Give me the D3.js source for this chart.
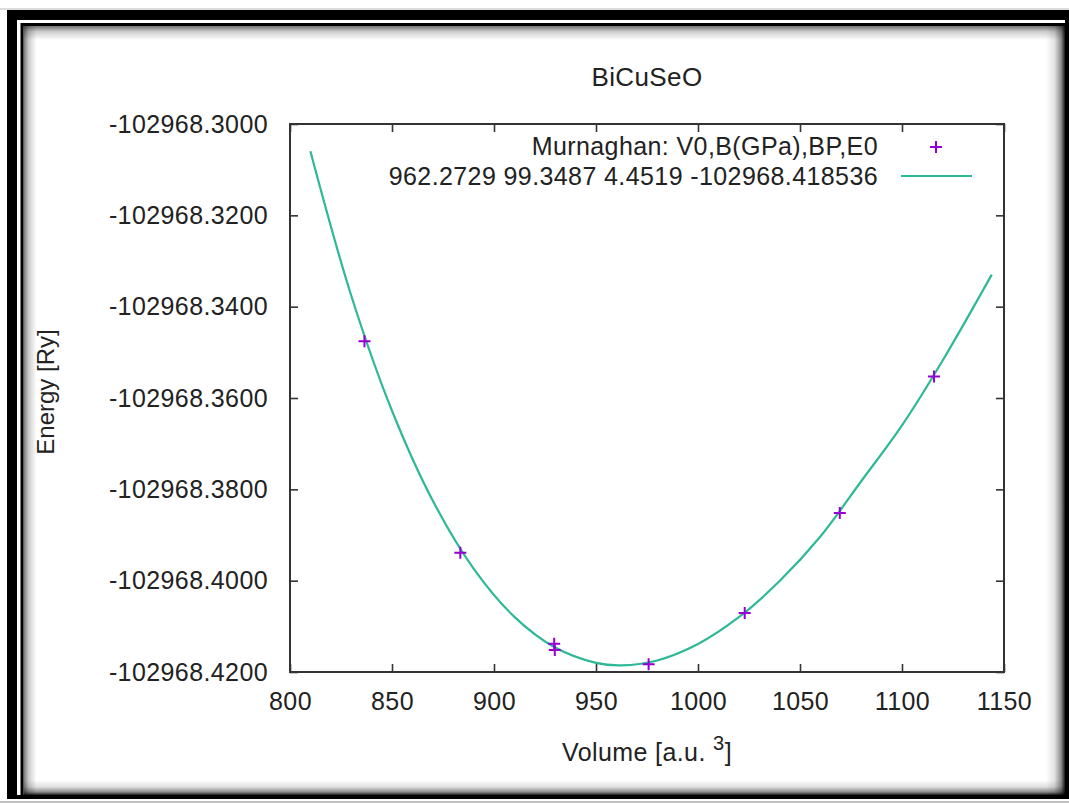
<!DOCTYPE html>
<html>
<head>
<meta charset="utf-8">
<script src="https://cdn.jsdelivr.net/npm/d3@7"></script>
<style>
  html, body { margin: 0; padding: 0; background: #fff; }
  svg { display: block; }
  text { font-family: "Liberation Sans", Arial, sans-serif; fill: #222; letter-spacing: 0.4px; }
</style>
</head>
<body>
<svg id="chart" width="1069" height="803"></svg>
<script>
// E(V) calculations for BiCuSeO: computed energies and the Murnaghan fit
const pointVolume = [836.5, 883.5, 929.5, 929.8, 975.8, 1022.9, 1069.5, 1115.7];
const pointEnergy = [-102968.3476, -102968.3939, -102968.4138, -102968.4152,
                     -102968.4183, -102968.4071, -102968.3852, -102968.3553];

// fitted Murnaghan curve, sampled along volume
const fitVolume = [810, 830, 850, 870, 890, 910, 930, 950, 962.27, 980, 1000,
                   1020, 1040, 1060, 1080, 1100, 1120, 1144];
const fitEnergy = [-102968.30597, -102968.33755, -102968.36279, -102968.38249,
                   -102968.39736, -102968.40792, -102968.41465, -102968.41800,
                   -102968.41854, -102968.41747, -102968.41387, -102968.40801,
                   -102968.40009, -102968.39033, -102968.37823, -102968.36600,
                   -102968.35173, -102968.33299];

const xTicks = [800, 850, 900, 950, 1000, 1050, 1100, 1150];
const yTicks = [-102968.30, -102968.32, -102968.34, -102968.36, -102968.38,
                -102968.40, -102968.42];
const yTickLabels = ["-102968.3000", "-102968.3200", "-102968.3400", "-102968.3600",
                     "-102968.3800", "-102968.4000", "-102968.4200"];

const titleText = "BiCuSeO";
const legendPoints = "Murnaghan: V0,B(GPa),BP,E0";
const legendFit = "962.2729 99.3487 4.4519 -102968.418536";

const svg = d3.select("#chart");
const W = 1069, H = 803;

// ---- picture frame with inset shadow ----
const defs = svg.append("defs");
function grad(id, x1, y1, x2, y2, stops) {
  const g = defs.append("linearGradient").attr("id", id)
    .attr("x1", x1).attr("y1", y1).attr("x2", x2).attr("y2", y2);
  stops.forEach(s => g.append("stop").attr("offset", s[0])
    .attr("stop-color", "#000").attr("stop-opacity", s[1]));
}
grad("shTop", 0, 0, 0, 1, [[0, 0.55], [0.4, 0.2], [1, 0]]);
grad("shLeft", 0, 0, 1, 0, [[0, 0.55], [0.4, 0.2], [1, 0]]);
grad("shRight", 0, 0, 1, 0, [[0, 0], [0.45, 0.12], [0.8, 0.45], [1, 0.9]]);
grad("shBottom", 0, 0, 0, 1, [[0, 0], [0.45, 0.12], [0.8, 0.45], [1, 0.9]]);

svg.append("rect").attr("x", 0).attr("y", 0).attr("width", W).attr("height", H).attr("fill", "#fff");
svg.append("line").attr("x1", 0).attr("x2", W).attr("y1", 9).attr("y2", 9)
  .attr("stroke", "#bbb").attr("stroke-width", 1);
svg.append("line").attr("x1", 0).attr("x2", W).attr("y1", 802).attr("y2", 802)
  .attr("stroke", "#aaa").attr("stroke-width", 1.5);
svg.append("rect").attr("x", 7).attr("y", 10).attr("width", W - 7).attr("height", 789).attr("fill", "#000");
svg.append("rect").attr("x", 17).attr("y", 20).attr("width", 1048).attr("height", 775).attr("fill", "#fff");
svg.append("rect").attr("x", 20.5).attr("y", 23).attr("width", 1044.5).attr("height", 772).attr("fill", "#000");
svg.append("rect").attr("x", 23.5).attr("y", 26).attr("width", 1041.5).attr("height", 769).attr("fill", "#fff");
svg.append("rect").attr("x", 23.5).attr("y", 26).attr("width", 1041.5).attr("height", 14).attr("fill", "url(#shTop)");
svg.append("rect").attr("x", 23.5).attr("y", 26).attr("width", 13).attr("height", 769).attr("fill", "url(#shLeft)");
svg.append("rect").attr("x", 1046).attr("y", 26).attr("width", 19).attr("height", 769).attr("fill", "url(#shRight)");
svg.append("rect").attr("x", 23.5).attr("y", 780).attr("width", 1041.5).attr("height", 15).attr("fill", "url(#shBottom)");

// ---- plot area ----
const plotLeft = 290, plotRight = 1004, plotTop = 124, plotBottom = 672;
const x = d3.scaleLinear().domain([800, 1150]).range([plotLeft, plotRight]);
const y = d3.scaleLinear().domain([-102968.42, -102968.30]).range([plotBottom, plotTop]);

const axisColor = "#333";
const fontSize = 25;

function styleAxis(g) {
  g.select(".domain").remove();
  g.selectAll(".tick line").attr("stroke", axisColor).attr("stroke-width", 1.6);
  g.selectAll(".tick text").style("font-size", fontSize + "px")
    .style("font-family", '"Liberation Sans", Arial, sans-serif').attr("fill", "#222");
}

svg.append("g").attr("transform", `translate(0,${plotBottom})`)
  .call(d3.axisBottom(x).tickValues(xTicks).tickFormat(d3.format("d"))
    .tickSizeInner(-8).tickSizeOuter(0).tickPadding(20))
  .call(styleAxis);
svg.append("g").attr("transform", `translate(0,${plotTop})`)
  .call(d3.axisTop(x).tickValues(xTicks).tickFormat("").tickSizeInner(-8).tickSizeOuter(0))
  .call(styleAxis);
svg.append("g").attr("transform", `translate(${plotLeft},0)`)
  .call(d3.axisLeft(y).tickValues(yTicks).tickFormat((d, i) => yTickLabels[i])
    .tickSizeInner(-8).tickSizeOuter(0).tickPadding(22))
  .call(styleAxis);
svg.append("g").attr("transform", `translate(${plotRight},0)`)
  .call(d3.axisRight(y).tickValues(yTicks).tickFormat("").tickSizeInner(-8).tickSizeOuter(0))
  .call(styleAxis);

svg.append("rect").attr("x", plotLeft).attr("y", plotTop)
  .attr("width", plotRight - plotLeft).attr("height", plotBottom - plotTop)
  .attr("fill", "none").attr("stroke", axisColor).attr("stroke-width", 2);

// ---- fit curve ----
const fitColor = "#2db896";
const fitData = fitVolume.map((v, i) => [v, fitEnergy[i]]);
svg.append("path").datum(fitData)
  .attr("fill", "none").attr("stroke", fitColor).attr("stroke-width", 2.2)
  .attr("d", d3.line().x(d => x(d[0])).y(d => y(d[1])).curve(d3.curveCatmullRom));

// ---- data points ----
const pointColor = "#9400d3";
const cross = "M-6,0H6M0,-6V6";
svg.append("g").selectAll("path").data(pointVolume.map((v, i) => [v, pointEnergy[i]]))
  .join("path")
  .attr("transform", d => `translate(${x(d[0])},${y(d[1])})`)
  .attr("d", cross).attr("stroke", pointColor).attr("stroke-width", 2).attr("fill", "none");

// ---- title and axis labels ----
svg.append("text").attr("x", (plotLeft + plotRight) / 2).attr("y", 86)
  .attr("text-anchor", "middle").style("font-size", "26px").text(titleText);

svg.append("text").attr("transform", `translate(54,${(plotTop + plotBottom) / 2 - 6}) rotate(-90)`)
  .attr("text-anchor", "middle").style("font-size", "24px").style("letter-spacing", "0px")
  .text("Energy [Ry]");

const xl = svg.append("text").attr("x", (plotLeft + plotRight) / 2).attr("y", 761)
  .attr("text-anchor", "middle").style("font-size", "25px");
xl.append("tspan").text("Volume [a.u. ");
xl.append("tspan").attr("dy", -11).style("font-size", "20px").text("3");
xl.append("tspan").attr("dy", 11).text("]");

// ---- key ----
svg.append("text").attr("x", 878).attr("y", 155).attr("text-anchor", "end")
  .style("font-size", fontSize + "px").text(legendPoints);
svg.append("path").attr("transform", "translate(936,147)").attr("d", cross)
  .attr("stroke", pointColor).attr("stroke-width", 2).attr("fill", "none");
svg.append("text").attr("x", 878).attr("y", 185).attr("text-anchor", "end")
  .style("font-size", fontSize + "px").text(legendFit);
svg.append("line").attr("x1", 901).attr("x2", 972).attr("y1", 176).attr("y2", 176)
  .attr("stroke", fitColor).attr("stroke-width", 2.2);
</script>
</body>
</html>
